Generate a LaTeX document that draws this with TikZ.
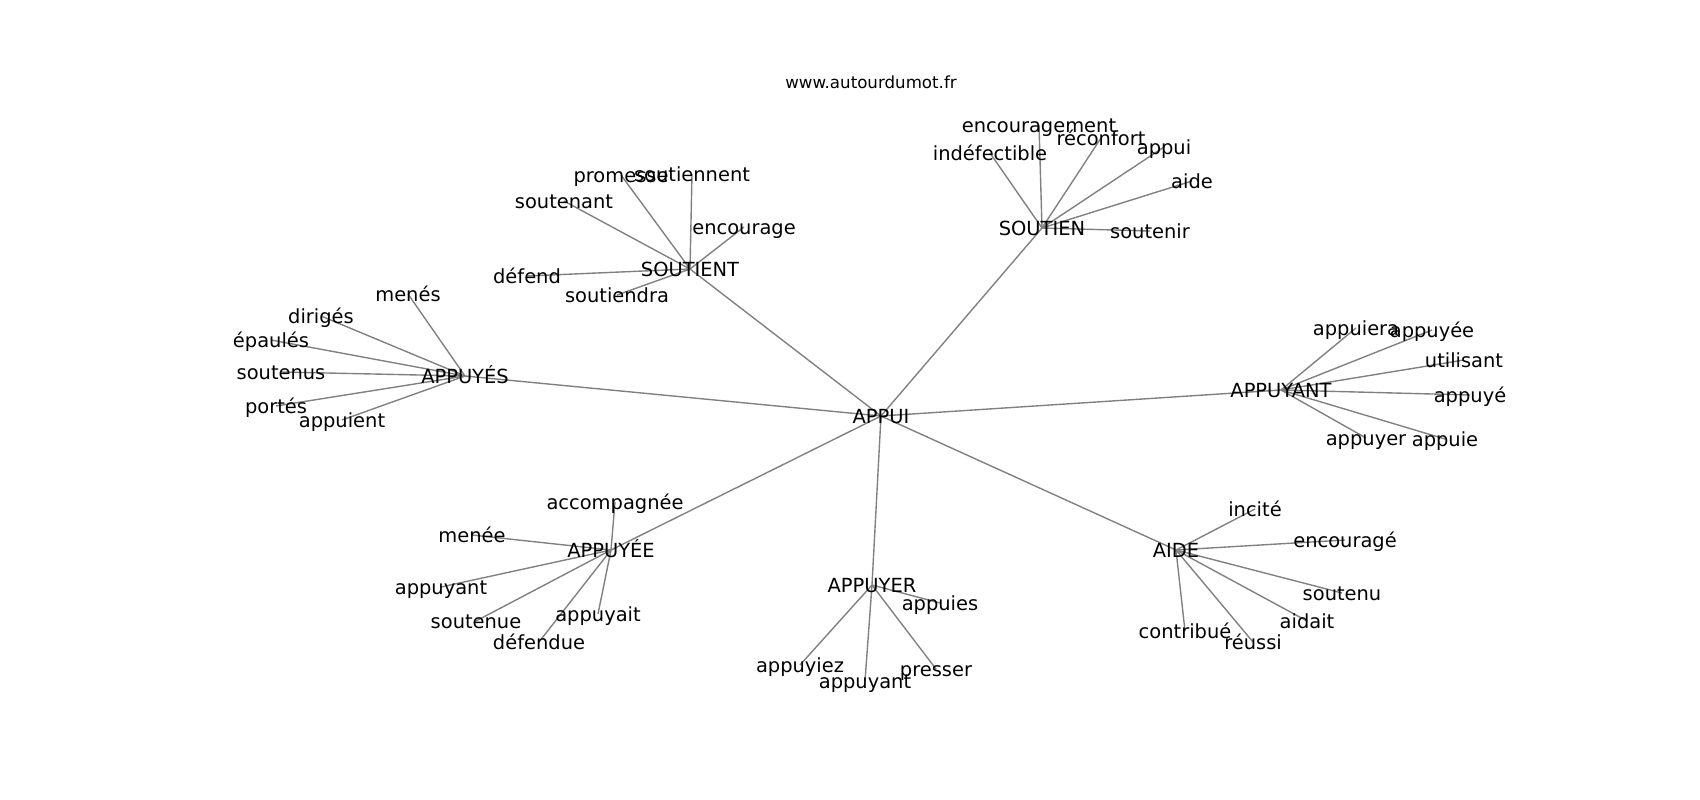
\documentclass[tikz,border=0pt]{standalone}
\usepackage{fontspec}
\setmainfont{DejaVu Sans}
\usetikzlibrary{backgrounds}
\begin{document}
\begin{tikzpicture}[x=0.72bp,y=-0.72bp,
  lbl/.style={font=\fontsize{14bp}{16bp}\selectfont, inner sep=0pt, text height=13.5bp, text depth=3.3bp},
  ttl/.style={font=\fontsize{12bp}{14bp}\selectfont, inner sep=0pt, anchor=base},
  edge/.style={draw=gray, line width=1bp}]
\useasboundingbox (0,0) rectangle (1700,800);
\node[ttl] (title) at (871,88) {www.autourdumot.fr};
% hubs
\node[lbl] (appui) at (881,416) {APPUI};
\node[lbl] (soutient) at (690,269) {SOUTIENT};
\node[lbl] (soutien) at (1042,228) {SOUTIEN};
\node[lbl] (appuyes) at (465,376) {APPUYÉS};
\node[lbl] (appuyant) at (1281,390) {APPUYANT};
\node[lbl] (appuyee) at (611,550) {APPUYÉE};
\node[lbl] (appuyer) at (872,585) {APPUYER};
\node[lbl] (aide) at (1176,550) {AIDE};
% SOUTIENT leaves
\node[lbl] (promesse) at (621,175) {promesse};
\node[lbl] (soutiennent) at (692,174) {soutiennent};
\node[lbl] (soutenant) at (564,201) {soutenant};
\node[lbl] (encourage) at (744,227) {encourage};
\node[lbl] (defend) at (527,276) {défend};
\node[lbl] (soutiendra) at (617,295) {soutiendra};
% SOUTIEN leaves
\node[lbl] (encouragement) at (1039,125) {encouragement};
\node[lbl] (indefectible) at (990,153) {indéfectible};
\node[lbl] (reconfort) at (1101,138) {réconfort};
\node[lbl] (appuiN) at (1164,147) {appui};
\node[lbl] (aideN) at (1192,181) {aide};
\node[lbl] (soutenir) at (1150,231) {soutenir};
% APPUYES leaves
\node[lbl] (menes) at (408,294) {menés};
\node[lbl] (diriges) at (321,316) {dirigés};
\node[lbl] (epaules) at (271,340) {épaulés};
\node[lbl] (soutenus) at (281,372) {soutenus};
\node[lbl] (portes) at (276,406) {portés};
\node[lbl] (appuient) at (342,420) {appuient};
% APPUYANT leaves
\node[lbl] (appuiera) at (1356,328) {appuiera};
\node[lbl] (appuyeeN) at (1432,330) {appuyée};
\node[lbl] (utilisant) at (1464,360) {utilisant};
\node[lbl] (appuyeN) at (1470,395) {appuyé};
\node[lbl] (appuyerN) at (1366,438) {appuyer};
\node[lbl] (appuie) at (1445,439) {appuie};
% APPUYEE leaves
\node[lbl] (accompagnee) at (615,502) {accompagnée};
\node[lbl] (menee) at (472,535) {menée};
\node[lbl] (appuyantA) at (441,587) {appuyant};
\node[lbl] (soutenue) at (476,621) {soutenue};
\node[lbl] (defendue) at (539,642) {défendue};
\node[lbl] (appuyait) at (598,614) {appuyait};
% APPUYER leaves
\node[lbl] (appuies) at (940,603) {appuies};
\node[lbl] (appuyiez) at (800,665) {appuyiez};
\node[lbl] (appuyantB) at (865,681) {appuyant};
\node[lbl] (presser) at (936,669) {presser};
% AIDE leaves
\node[lbl] (incite) at (1255,509) {incité};
\node[lbl] (encourageN) at (1345,540) {encouragé};
\node[lbl] (soutenu) at (1342,593) {soutenu};
\node[lbl] (aidait) at (1307,621) {aidait};
\node[lbl] (contribue) at (1185,631) {contribué};
\node[lbl] (reussi) at (1253,642) {réussi};
\begin{scope}[on background layer]
\foreach \h in {soutient,soutien,appuyes,appuyant,appuyee,appuyer,aide}
  \draw[edge] (appui.center) -- (\h.center);
\foreach \l in {promesse,soutiennent,soutenant,encourage,defend,soutiendra}
  \draw[edge] (soutient.center) -- (\l.center);
\foreach \l in {encouragement,indefectible,reconfort,appuiN,aideN,soutenir}
  \draw[edge] (soutien.center) -- (\l.center);
\foreach \l in {menes,diriges,epaules,soutenus,portes,appuient}
  \draw[edge] (appuyes.center) -- (\l.center);
\foreach \l in {appuiera,appuyeeN,utilisant,appuyeN,appuyerN,appuie}
  \draw[edge] (appuyant.center) -- (\l.center);
\foreach \l in {accompagnee,menee,appuyantA,soutenue,defendue,appuyait}
  \draw[edge] (appuyee.center) -- (\l.center);
\foreach \l in {appuies,appuyiez,appuyantB,presser}
  \draw[edge] (appuyer.center) -- (\l.center);
\foreach \l in {incite,encourageN,soutenu,aidait,contribue,reussi}
  \draw[edge] (aide.center) -- (\l.center);
\end{scope}
\end{tikzpicture}
\end{document}
